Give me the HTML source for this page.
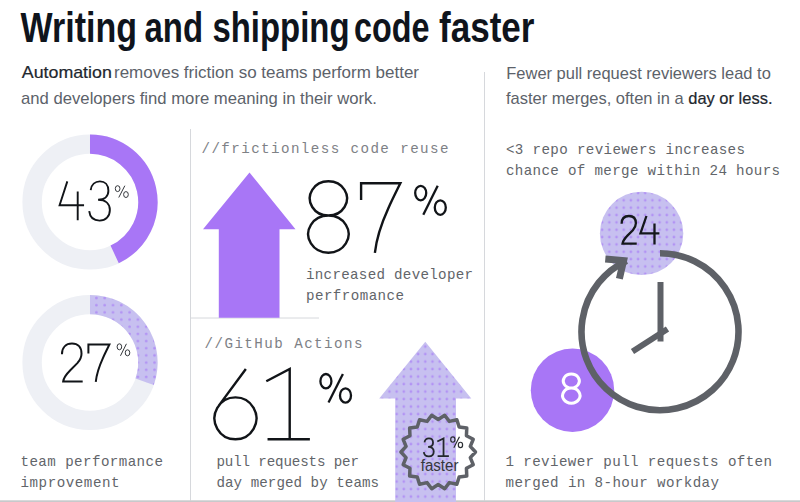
<!DOCTYPE html>
<html><head><meta charset="utf-8"><title>Writing and shipping code faster</title>
<style>
html,body{margin:0;padding:0;background:#fff;}
body{width:800px;height:502px;overflow:hidden;font-family:"Liberation Sans",sans-serif;}
svg{display:block}
text{white-space:pre}
</style></head><body>
<svg width="800" height="502" viewBox="0 0 800 502">
<defs>
<pattern id="dotsA" x="421.715" y="342.850" width="7.17" height="7.5" patternUnits="userSpaceOnUse"><rect width="7.17" height="7.5" fill="#c7c0f0"/><circle cx="3.585" cy="3.75" r="1.35" fill="#b293f4"/></pattern>
<pattern id="dotsC" x="620.110" y="218.725" width="7.18" height="7.35" patternUnits="userSpaceOnUse"><rect width="7.18" height="7.35" fill="#c7c0f0"/><circle cx="3.59" cy="3.675" r="1.35" fill="#b293f4"/></pattern>
<pattern id="dotsD" x="92.250" y="294.415" width="8.3" height="7.17" patternUnits="userSpaceOnUse"><rect width="8.3" height="7.17" fill="#c7c0f0"/><circle cx="4.15" cy="3.585" r="1.35" fill="#b293f4"/></pattern>
</defs>
<rect width="800" height="502" fill="#ffffff"/>
<text x="20.6" y="42.2" font-family="Liberation Sans" font-size="42.2" font-weight="bold" fill="#0f141c" textLength="116.5" lengthAdjust="spacingAndGlyphs" >Writing</text>
<text x="144.5" y="42.2" font-family="Liberation Sans" font-size="42.2" font-weight="bold" fill="#0f141c" textLength="58.5" lengthAdjust="spacingAndGlyphs" >and</text>
<text x="212.5" y="42.2" font-family="Liberation Sans" font-size="42.2" font-weight="bold" fill="#0f141c" textLength="137" lengthAdjust="spacingAndGlyphs" >shipping</text>
<text x="354" y="42.2" font-family="Liberation Sans" font-size="42.2" font-weight="bold" fill="#0f141c" textLength="75.5" lengthAdjust="spacingAndGlyphs" >code</text>
<text x="439" y="42.2" font-family="Liberation Sans" font-size="42.2" font-weight="bold" fill="#0f141c" textLength="95.5" lengthAdjust="spacingAndGlyphs" >faster</text>
<text x="21.8" y="78.2" font-family="Liberation Sans" font-size="16.2" font-weight="normal" fill="#22272e" textLength="90" lengthAdjust="spacingAndGlyphs" stroke="#22272e" stroke-width="0.2">Automation</text>
<text x="114" y="78.2" font-family="Liberation Sans" font-size="16.2" font-weight="normal" fill="#5c626a" textLength="305" lengthAdjust="spacingAndGlyphs" >removes friction so teams perform better</text>
<text x="21" y="104" font-family="Liberation Sans" font-size="16.2" font-weight="normal" fill="#5c626a" textLength="356" lengthAdjust="spacingAndGlyphs" >and developers find more meaning in their work.</text>
<text x="506.3" y="78.8" font-family="Liberation Sans" font-size="16.2" font-weight="normal" fill="#5c626a" textLength="264.5" lengthAdjust="spacingAndGlyphs" >Fewer pull request reviewers lead to</text>
<text x="506" y="104" font-family="Liberation Sans" font-size="16.2" fill="#5c626a" textLength="266.5" lengthAdjust="spacingAndGlyphs">faster merges, often in a <tspan fill="#22272e" stroke="#22272e" stroke-width="0.2">day or less.</tspan></text>
<line x1="190.5" y1="129" x2="190.5" y2="500.5" stroke="#d6d8dc" stroke-width="1"/>
<line x1="484.5" y1="72" x2="484.5" y2="500.5" stroke="#d6d8dc" stroke-width="1"/>
<line x1="190" y1="318" x2="319" y2="318" stroke="#d6d8dc" stroke-width="1"/>
<rect x="0" y="500.3" width="800" height="1.7" fill="#c8c9cb"/>
<circle cx="90" cy="202" r="57.9" fill="none" stroke="#eef0f5" stroke-width="19.4"/>
<path d="M90.00,144.10 A57.9,57.9 0 0 1 114.65,254.39" fill="none" stroke="#a876f6" stroke-width="19.4"/>
<path d="M21.4,0 L1.5,61.4 L64.4,61.4 M48.1,26 L48.1,100" transform="translate(59.00,181.40) scale(0.3890,0.3890)" fill="none" stroke="#111418" stroke-width="1.9" vector-effect="non-scaling-stroke" stroke-linejoin="miter" stroke-linecap="butt"/>
<path d="M4,22 C6,8 16,0 29,0 C43,0 52,9 52,24 C52,38 42,47 24,47 C45,47 56,58 56,73 C56,89 45,100 28,100 C13,100 2,92 0,76" transform="translate(89.20,181.40) scale(0.3690,0.3920)" fill="none" stroke="#111418" stroke-width="1.9" vector-effect="non-scaling-stroke" stroke-linejoin="miter" stroke-linecap="butt"/>
<ellipse cx="117.64" cy="188.65" rx="2.34" ry="2.95" fill="none" stroke="#33363b" stroke-width="1.0"/><ellipse cx="125.96" cy="194.55" rx="2.34" ry="2.95" fill="none" stroke="#33363b" stroke-width="1.0"/><line x1="124.85" y1="185.70" x2="118.75" y2="197.50" stroke="#33363b" stroke-width="1.0"/>
<circle cx="90" cy="362.5" r="57.9" fill="none" stroke="#eef0f5" stroke-width="19.4"/>
<path d="M90.00,304.60 A57.9,57.9 0 0 1 144.58,381.83" fill="none" stroke="url(#dotsD)" stroke-width="19.4"/>
<path d="M1.5,28 C1.5,10 12,0 28,0 C44,0 53.2,10 53.2,26.6 C53.2,38 48,45 42.2,51.6 L23.5,70.4 C14,80 6,90 4.7,100 L56.3,100" transform="translate(61.40,343.60) scale(0.3780,0.3780)" fill="none" stroke="#111418" stroke-width="2.0" vector-effect="non-scaling-stroke" stroke-linejoin="miter" stroke-linecap="butt"/>
<path d="M0,24 L0,0 L56.4,0 C50,13 44,25 39,36.2 C30,56 22,80 19.8,100" transform="translate(88.40,344.60) scale(0.3720,0.3720)" fill="none" stroke="#111418" stroke-width="2.0" vector-effect="non-scaling-stroke" stroke-linejoin="miter" stroke-linecap="butt"/>
<ellipse cx="119.39" cy="346.80" rx="2.29" ry="3.00" fill="none" stroke="#33363b" stroke-width="1.0"/><ellipse cx="127.51" cy="352.80" rx="2.29" ry="3.00" fill="none" stroke="#33363b" stroke-width="1.0"/><line x1="126.43" y1="343.80" x2="120.47" y2="355.80" stroke="#33363b" stroke-width="1.0"/>
<text x="20.5" y="465.8" font-family="Liberation Mono" font-size="14.2" fill="#62656a" textLength="142.5" lengthAdjust="spacing" xml:space="preserve">team performance</text>
<text x="20.5" y="486.8" font-family="Liberation Mono" font-size="14.2" fill="#62656a" textLength="99" lengthAdjust="spacing" xml:space="preserve">improvement</text>
<text x="201.5" y="152.5" font-family="Liberation Mono" font-size="14.2" fill="#7e8186" textLength="247" lengthAdjust="spacing" xml:space="preserve">//frictionless code reuse</text>
<path d="M249.5,172.5 L295.5,229.3 L279.5,229.3 L279.5,317.8 L218.8,317.8 L218.8,229.3 L203,229.3 Z" fill="#a876f6"/>
<path d="M28.5,0 A26.3,24 0 1 1 28.49,0 Z M28.5,48 A28.5,26 0 1 1 28.49,48 Z" transform="translate(308.20,181.30) scale(0.7088,0.7140)" fill="none" stroke="#111418" stroke-width="2.4" vector-effect="non-scaling-stroke" stroke-linejoin="miter" stroke-linecap="butt"/>
<path d="M0,24 L0,0 L56.4,0 C50,13 44,25 39,36.2 C30,56 22,80 19.8,100" transform="translate(361.10,183.20) scale(0.6960,0.6960)" fill="none" stroke="#111418" stroke-width="2.4" vector-effect="non-scaling-stroke" stroke-linejoin="miter" stroke-linecap="butt"/>
<ellipse cx="420.71" cy="193.05" rx="5.51" ry="7.25" fill="none" stroke="#111418" stroke-width="2.3"/><ellipse cx="440.29" cy="207.55" rx="5.51" ry="7.25" fill="none" stroke="#111418" stroke-width="2.3"/><line x1="437.69" y1="185.80" x2="423.31" y2="214.80" stroke="#111418" stroke-width="2.3"/>
<text x="306" y="279.0" font-family="Liberation Mono" font-size="14.2" fill="#62656a" textLength="167" lengthAdjust="spacing" xml:space="preserve">increased developer</text>
<text x="306" y="299.5" font-family="Liberation Mono" font-size="14.2" fill="#62656a" textLength="98" lengthAdjust="spacing" xml:space="preserve">perfromance</text>
<text x="204.5" y="348.0" font-family="Liberation Mono" font-size="14.2" fill="#7e8186" textLength="158" lengthAdjust="spacing" xml:space="preserve">//GitHub Actions</text>
<path d="M44.6,0 L5.84,52.5 M29.8,40.4 A29.8,29.8 0 1 1 29.79,40.4 Z" transform="translate(214.50,369.00) scale(0.7030,0.7030)" fill="none" stroke="#111418" stroke-width="2.4" vector-effect="non-scaling-stroke" stroke-linejoin="miter" stroke-linecap="butt"/>
<path d="M0,17.5 L33.3,0 L33.3,100 M1.75,100 L62,100" transform="translate(266.30,369.00) scale(0.7030,0.7030)" fill="none" stroke="#111418" stroke-width="2.4" vector-effect="non-scaling-stroke" stroke-linejoin="miter" stroke-linecap="butt"/>
<ellipse cx="325.91" cy="381.15" rx="5.51" ry="7.15" fill="none" stroke="#111418" stroke-width="2.3"/><ellipse cx="345.49" cy="395.45" rx="5.51" ry="7.15" fill="none" stroke="#111418" stroke-width="2.3"/><line x1="342.89" y1="374.00" x2="328.51" y2="402.60" stroke="#111418" stroke-width="2.3"/>
<text x="216.5" y="466.0" font-family="Liberation Mono" font-size="14.2" fill="#62656a" textLength="142.5" lengthAdjust="spacing" xml:space="preserve">pull requests per</text>
<text x="216.5" y="487.0" font-family="Liberation Mono" font-size="14.2" fill="#62656a" textLength="162.5" lengthAdjust="spacing" xml:space="preserve">day merged by teams</text>
<path d="M425.3,341.8 L471.3,398.5 L456,398.5 L456,502 L395.2,502 L395.2,398.5 L379.2,398.5 Z" fill="url(#dotsA)"/>
<path d="M444.68,415.27 L449.35,421.37 L456.85,419.70 L459.15,427.03 L466.77,428.02 L466.43,435.70 L473.25,439.24 L470.30,446.34 L475.50,452.00 L470.30,457.66 L473.25,464.76 L466.43,468.30 L466.77,475.98 L459.15,476.97 L456.85,484.30 L449.35,482.63 L444.68,488.73 L438.20,484.60 L431.72,488.73 L427.05,482.63 L419.55,484.30 L417.25,476.97 L409.63,475.98 L409.97,468.30 L403.15,464.76 L406.10,457.66 L400.90,452.00 L406.10,446.34 L403.15,439.24 L409.97,435.70 L409.63,428.02 L417.25,427.03 L419.55,419.70 L427.05,421.37 L431.72,415.27 L438.20,419.40 Z" fill="none" stroke="#5e6167" stroke-width="3.5" stroke-linejoin="round"/>
<path d="M4,22 C6,8 16,0 29,0 C43,0 52,9 52,24 C52,38 42,47 24,47 C45,47 56,58 56,73 C56,89 45,100 28,100 C13,100 2,92 0,76" transform="translate(423.80,438.40) scale(0.1776,0.1800)" fill="none" stroke="#24272c" stroke-width="1.8" vector-effect="non-scaling-stroke" stroke-linejoin="miter" stroke-linecap="butt"/>
<path d="M0,17.5 L33.3,0 L33.3,100 M1.75,100 L62,100" transform="translate(437.30,438.40) scale(0.1871,0.1780)" fill="none" stroke="#24272c" stroke-width="1.8" vector-effect="non-scaling-stroke" stroke-linejoin="miter" stroke-linecap="butt"/>
<ellipse cx="452.84" cy="439.53" rx="2.14" ry="2.73" fill="none" stroke="#2b2e33" stroke-width="1.2"/><ellipse cx="460.46" cy="444.97" rx="2.14" ry="2.73" fill="none" stroke="#2b2e33" stroke-width="1.2"/><line x1="459.45" y1="436.80" x2="453.85" y2="447.70" stroke="#2b2e33" stroke-width="1.2"/>
<text x="420.8" y="471.4" font-family="Liberation Sans" font-size="15.8" font-weight="normal" fill="#34373c" textLength="37.6" lengthAdjust="spacingAndGlyphs" >faster</text>
<text x="506" y="153.7" font-family="Liberation Mono" font-size="14.2" fill="#62656a" textLength="239" lengthAdjust="spacing" xml:space="preserve">&lt;3 repo reviewers increases</text>
<text x="506" y="174.7" font-family="Liberation Mono" font-size="14.2" fill="#62656a" textLength="274" lengthAdjust="spacing" xml:space="preserve">chance of merge within 24 hours</text>
<text x="505.5" y="466.1" font-family="Liberation Mono" font-size="14.2" fill="#62656a" textLength="266.5" lengthAdjust="spacing" xml:space="preserve">1 reviewer pull requests often</text>
<text x="505.5" y="487.3" font-family="Liberation Mono" font-size="14.2" fill="#62656a" textLength="213.5" lengthAdjust="spacing" xml:space="preserve">merged in 8-hour workday</text>
<circle cx="572.5" cy="390.3" r="41.7" fill="#a876f6"/>
<circle cx="641.6" cy="233.4" r="41.7" fill="url(#dotsC)"/>
<path d="M1.5,28 C1.5,10 12,0 28,0 C44,0 53.2,10 53.2,26.6 C53.2,38 48,45 42.2,51.6 L23.5,70.4 C14,80 6,90 4.7,100 L56.3,100" transform="translate(621.20,216.00) scale(0.2760,0.2760)" fill="none" stroke="#15181c" stroke-width="2.3" vector-effect="non-scaling-stroke" stroke-linejoin="miter" stroke-linecap="butt"/>
<path d="M21.4,0 L1.5,61.4 L64.4,61.4 M48.1,26 L48.1,100" transform="translate(640.00,216.00) scale(0.3012,0.2840)" fill="none" stroke="#15181c" stroke-width="2.3" vector-effect="non-scaling-stroke" stroke-linejoin="miter" stroke-linecap="butt"/>
<path d="M660.00,253.20 A78.5,78.5 0 1 1 626.58,260.67" fill="none" stroke="#5e6167" stroke-width="6.6"/>
<path d="M605.3,259 L623.6,260.6 L619.4,278.8" fill="none" stroke="#5e6167" stroke-width="7" stroke-linejoin="miter"/>
<line x1="660.5" y1="282" x2="660.5" y2="341.5" stroke="#5e6167" stroke-width="6"/>
<line x1="667.5" y1="329" x2="632.5" y2="351.5" stroke="#5e6167" stroke-width="6"/>
<path d="M28.5,0 A26.3,24 0 1 1 28.49,0 Z M28.5,48 A28.5,26 0 1 1 28.49,48 Z" transform="translate(562.60,374.00) scale(0.3053,0.2920)" fill="none" stroke="#ffffff" stroke-width="3.0" vector-effect="non-scaling-stroke" stroke-linejoin="miter" stroke-linecap="butt"/>
</svg>
</body></html>
